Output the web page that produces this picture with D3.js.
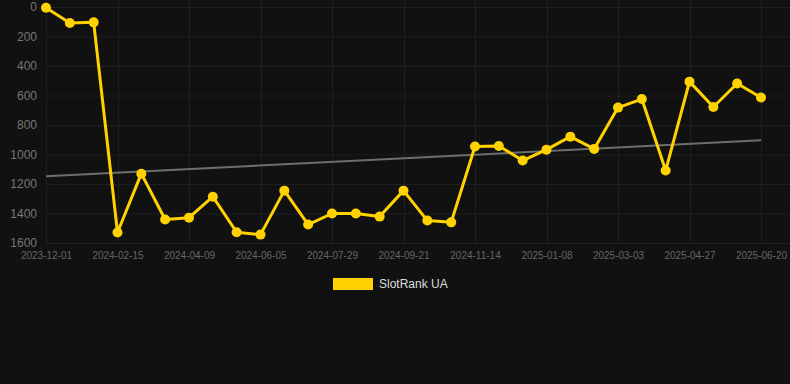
<!DOCTYPE html>
<html><head><meta charset="utf-8">
<script src="https://cdn.jsdelivr.net/npm/d3@7"></script>
<style>
html,body{margin:0;padding:0;background:#111111;}
svg{display:block;}
</style></head>
<body>
<svg id="c" width="790" height="384"></svg>
<script>
const categories = [
 "2023-12-01","2023-12-26","2024-01-20","2024-02-15","2024-03-03","2024-03-21",
 "2024-04-09","2024-04-28","2024-05-17","2024-06-05","2024-06-23","2024-07-11",
 "2024-07-29","2024-08-16","2024-09-03","2024-09-21","2024-10-09","2024-10-27",
 "2024-11-14","2024-12-02","2024-12-20","2025-01-08","2025-01-26","2025-02-13",
 "2025-03-03","2025-03-21","2025-04-08","2025-04-27","2025-05-15","2025-06-02",
 "2025-06-20"];
const slotRankUA = [5,108,104,1529,1130,1441,1428,1286,1527,1543,1245,1475,1400,1400,1421,1245,1448,1460,946,942,1041,967,879,962,682,624,1109,506,678,519,614];
const trendValues = [1147, 904];
const yTicks = [0,200,400,600,800,1000,1200,1400,1600];
const xTickLabels = categories.filter((d,i)=>i%3===0);
const seriesName = "SlotRank UA";

const svg = d3.select("#c");
const x = d3.scalePoint().domain(categories).range([46, 761]);
const y = d3.scaleLinear().domain([0,1600]).range([7, 243]);

// grid
const g = svg.append("g");
g.selectAll("line.h").data(yTicks).join("line")
  .attr("x1", 46).attr("x2", 790).attr("y1", d=>y(d)+0.5).attr("y2", d=>y(d)+0.5)
  .attr("stroke", "#1f1f1f").attr("stroke-width", 1);
g.selectAll("line.v").data(xTickLabels).join("line")
  .attr("x1", d=>Math.round(x(d))+0.5).attr("x2", d=>Math.round(x(d))+0.5).attr("y1", 0).attr("y2", 243)
  .attr("stroke", "#1f1f1f").attr("stroke-width", 1);

// y axis
const yAxis = svg.append("g").attr("transform","translate(37,0)")
  .call(d3.axisLeft(y).tickValues(yTicks).tickFormat(d3.format("d")).tickSize(0).tickPadding(0));
yAxis.select(".domain").remove();
yAxis.selectAll("text").attr("fill","#777").style("font-family","'Liberation Sans',Arial,sans-serif").style("font-size","12px");

// x axis
const xAxis = svg.append("g").attr("transform","translate(0,252)")
  .call(d3.axisBottom(x).tickValues(xTickLabels).tickSize(0).tickPadding(0));
xAxis.select(".domain").remove();
xAxis.selectAll("text").attr("fill","#666").attr("dy","0.71em").style("font-family","'Liberation Sans',Arial,sans-serif").style("font-size","10px");

// trend line
svg.append("line")
  .attr("x1", x(categories[0])).attr("x2", x(categories[categories.length-1]))
  .attr("y1", y(trendValues[0])).attr("y2", y(trendValues[1]))
  .attr("stroke","#6e6e6e").attr("stroke-width",2);

// series line
const data = categories.map((c,i)=>({c, v: slotRankUA[i]}));
svg.append("path").datum(data)
  .attr("fill","none").attr("stroke","#FFD200").attr("stroke-width",3).attr("stroke-linejoin","round")
  .attr("d", d3.line().x(d=>x(d.c)).y(d=>y(d.v)));
svg.selectAll("circle.pt").data(data).join("circle")
  .attr("cx", d=>x(d.c)).attr("cy", d=>y(d.v)).attr("r",5).attr("fill","#FFD200");

// legend
svg.append("rect").attr("x",333).attr("y",278).attr("width",40).attr("height",12).attr("fill","#FFD200");
svg.append("text").attr("x",379).attr("y",284).attr("dy","0.35em")
  .attr("fill","#dddddd").style("font-family","'Liberation Sans',Arial,sans-serif").style("font-size","12px")
  .text(seriesName);
</script>
</body></html>
